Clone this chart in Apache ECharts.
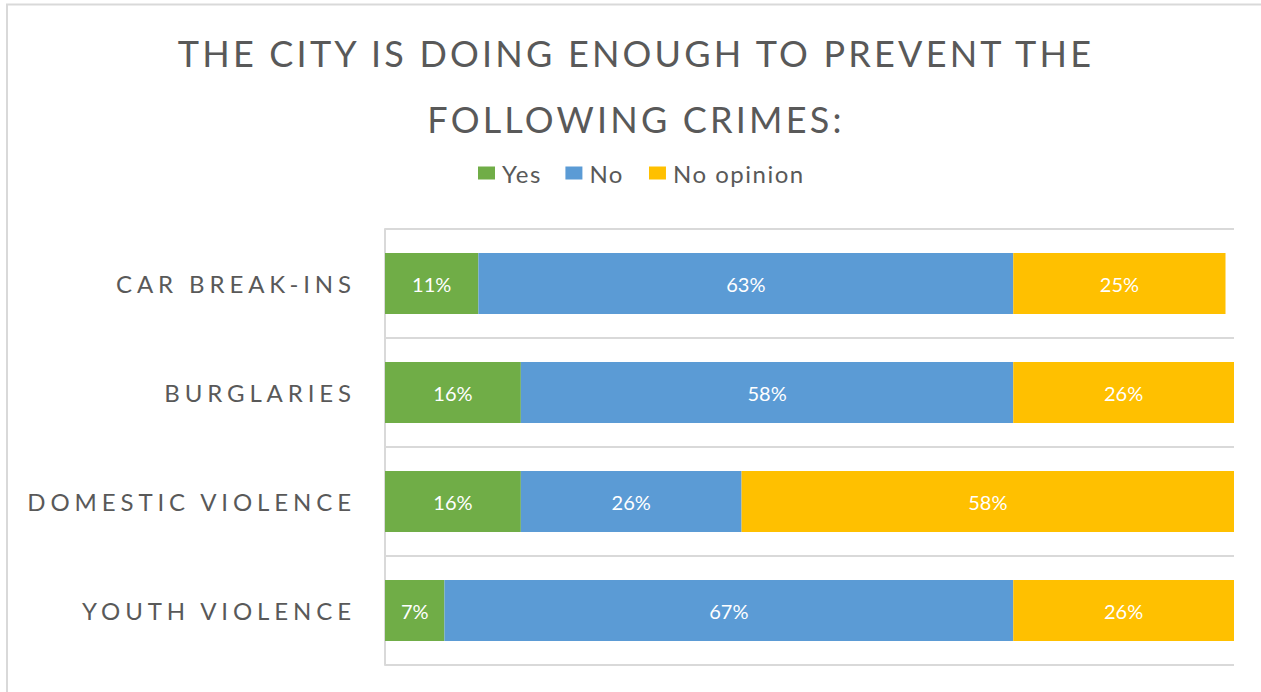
<!DOCTYPE html>
<html>
<head>
<meta charset="utf-8">
<script src="https://cdn.jsdelivr.net/npm/echarts@6/dist/echarts.min.js"></script>
<style>
  html, body { margin: 0; padding: 0; background: #fff; }
  #chart { width: 1261px; height: 692px; }
</style>
</head>
<body>
<div id="chart"></div>
<script>
// Survey: "The city is doing enough to prevent the following crimes"
const categories = ['CAR BREAK-INS', 'BURGLARIES', 'DOMESTIC VIOLENCE', 'YOUTH VIOLENCE'];
const seriesNames = ['Yes', 'No', 'No opinion'];
const yesValues = [11, 16, 16, 7];
const noValues = [63, 58, 26, 67];
const noOpinionValues = [25, 26, 58, 26];

const colors = ['#70AD47', '#5B9BD5', '#FFC000'];
const textColor = '#595959';
const lineColor = '#D9D9D9';
const fontFamily = 'Lato, "Open Sans", sans-serif';

const chart = echarts.init(document.getElementById('chart'), null, { renderer: 'svg' });

function barSeries(name, values, color) {
  return {
    name: name,
    type: 'bar',
    stack: 'total',
    barWidth: '56%',
    data: values,
    itemStyle: { color: color },
    label: {
      show: true,
      position: 'inside',
      formatter: '{c}%',
      color: '#ffffff',
      fontFamily: fontFamily,
      fontSize: 20
    },
    emphasis: { disabled: true }
  };
}

chart.setOption({
  animation: false,
  color: colors,
  title: {
    text: 'THE CITY IS DOING ENOUGH TO PREVENT THE\nFOLLOWING CRIMES:',
    left: 631,
    top: 15,
    textAlign: 'center',
    textStyle: {
      color: textColor,
      fontFamily: fontFamily,
      fontWeight: 'normal',
      fontSize: 36,
      lineHeight: 66
    }
  },
  legend: {
    data: seriesNames,
    left: 473,
    top: 156,
    icon: 'rect',
    itemWidth: 17,
    itemHeight: 13,
    itemGap: 28,
    textStyle: {
      color: textColor,
      fontFamily: fontFamily,
      fontSize: 24,
      padding: [0, 0, 0, 2]
    }
  },
  graphic: [{
    type: 'rect',
    shape: { x: 7, y: 4.5, width: 1400, height: 900 },
    style: { fill: 'none', stroke: lineColor, lineWidth: 2 },
    silent: true
  }],
  grid: { left: 385, right: 27, top: 229, bottom: 27 },
  xAxis: {
    type: 'value',
    min: 0,
    max: 100,
    show: false
  },
  yAxis: {
    type: 'category',
    data: categories,
    inverse: true,
    axisLine: { show: true, lineStyle: { color: lineColor, width: 2 } },
    axisTick: { show: false },
    splitLine: { show: true, lineStyle: { color: lineColor, width: 2 } },
    axisLabel: {
      color: textColor,
      fontFamily: fontFamily,
      fontSize: 24,
      margin: 29
    }
  },
  series: [
    barSeries(seriesNames[0], yesValues, colors[0]),
    barSeries(seriesNames[1], noValues, colors[1]),
    barSeries(seriesNames[2], noOpinionValues, colors[2])
  ]
});

// Letter spacing for the title, category names and legend entries
function spaceText() {
  const texts = document.querySelectorAll('#chart text');
  texts.forEach(function (t) {
    const s = t.textContent;
    const size = parseFloat(getComputedStyle(t).fontSize) || 24;
    if (/^[A-Z :\-]+$/.test(s) && s.length > 3) {
      t.setAttribute('letter-spacing', size > 30 ? '3.2px' : '4.9px');
    } else if (seriesNames.indexOf(s) >= 0) {
      t.setAttribute('letter-spacing', '1.5px');
    }
  });
}
chart.on('finished', spaceText);
spaceText();
</script>
</body>
</html>
